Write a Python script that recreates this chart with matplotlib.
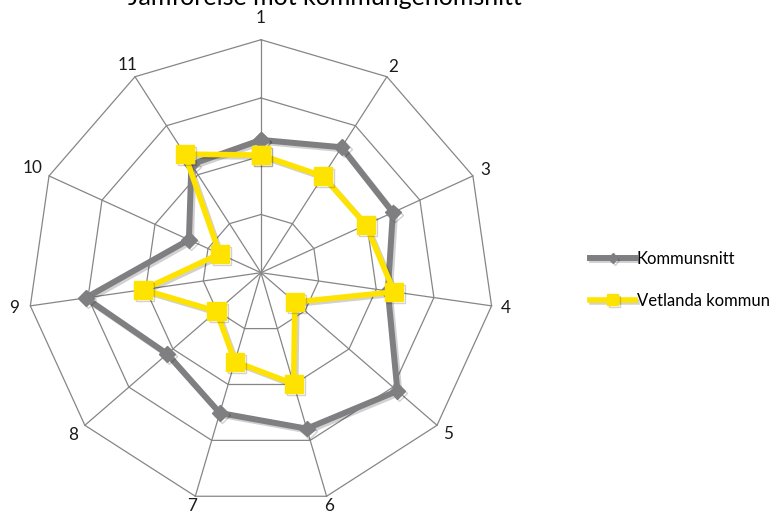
import numpy as np
import matplotlib
matplotlib.use("Agg")
import matplotlib.pyplot as plt
import matplotlib.patheffects as pe

plt.rcParams['font.family'] = ['Lato', 'DejaVu Sans']

title = "Jämförelse mot kommungenomsnitt"
categories = ["1", "2", "3", "4", "5", "6", "7", "8", "9", "10", "11"]
series_names = ["Kommunsnitt", "Vetlanda kommun"]
kommunsnitt = [2.28, 2.56, 2.49, 2.20, 3.10, 2.79, 2.51, 2.13, 3.04, 1.36, 2.21]
vetlanda = [2.02, 1.97, 1.98, 2.31, 0.77, 1.99, 1.59, 1.01, 2.04, 0.78, 2.42]
ring_values = [1, 2, 3, 4]
r_max = 4

W, H = 777, 513
fig = plt.figure(figsize=(W / 100, H / 100), dpi=100)
ax = fig.add_axes([0.036, 0.0142, 0.5997, 0.9084], projection='polar')
ax.set_theta_zero_location('N')
ax.set_theta_direction(-1)
ax.set_ylim(0, r_max)
ax.grid(False)
ax.set_xticks([])
ax.set_yticks([])
ax.spines['polar'].set_visible(False)
ax.patch.set_visible(False)

n = len(categories)
angles = np.arange(n) * 2 * np.pi / n
ang_c = np.append(angles, angles[0])

grid_color = '#868686'
for v in ring_values:
    ax.plot(ang_c, [v] * (n + 1), color=grid_color, lw=0.9, zorder=1, clip_on=False)
for a in angles:
    ax.plot([a, a], [0, r_max], color=grid_color, lw=0.9, zorder=1, clip_on=False)

label_r = [4.38, 4.2, 4.24, 4.24, 4.24, 4.17, 4.17, 4.26, 4.28, 4.32, 4.24]
for a, lab, lr in zip(angles, categories, label_r):
    ax.text(a, lr, lab, ha='center', va='center', fontsize=12.3, color='#1a1a1a')

shadow = [pe.SimpleLineShadow(offset=(1.5, -1.5), shadow_color='black', alpha=0.18), pe.Normal()]

k = np.append(kommunsnitt, kommunsnitt[0])
v = np.append(vetlanda, vetlanda[0])
l1, = ax.plot(ang_c, k, color='#7f7f81', lw=4.3, marker='D', ms=8,
              mfc='#7f7f81', mec='#7f7f81', mew=1, zorder=3, clip_on=False,
              label=series_names[0], path_effects=shadow)
l2, = ax.plot(ang_c, v, color='#ffe300', lw=4.0, marker='s', ms=13,
              mfc='#ffe300', mec='#ffe300', mew=1, zorder=4, clip_on=False,
              label=series_names[1], path_effects=shadow)

fig.text((127 + 522) / 2 / W, 1 - 5 / H, title, ha='center', va='baseline',
         fontsize=18, color='#000000')

fig.legend(handles=[l1, l2], labels=series_names, loc='upper left',
           bbox_to_anchor=(590 / W, 0.5107), frameon=False, borderpad=0,
           borderaxespad=0, handlelength=2.7, handletextpad=0.12,
           labelspacing=1.53, fontsize=12, markerscale=0.6)

fig.savefig('out.png', dpi=100)
